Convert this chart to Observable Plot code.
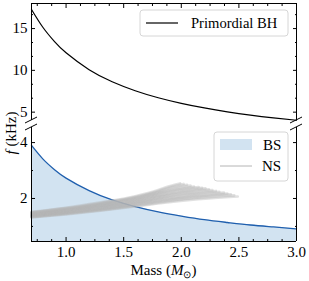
<!DOCTYPE html>
<html><head><meta charset="utf-8">
<script src="https://cdn.jsdelivr.net/npm/d3@7"></script>
<script src="https://cdn.jsdelivr.net/npm/@observablehq/plot@0.6"></script>
<style>
body{margin:0;background:white}
#chart{position:relative;width:309px;height:281px;font-family:"Liberation Serif",serif}
#chart svg{position:absolute;left:0;overflow:visible}
</style></head><body><div id="chart"></div>
<script>
// ---- data ----
const bhMass = [0.7,0.8,0.9,1.0,1.2,1.4,1.6,1.8,2.0,2.2,2.4,2.6,2.8,3.0];
const bhFreq = [17.29,15.13,13.44,12.10,10.08,8.64,7.56,6.72,6.05,5.50,5.04,4.65,4.32,4.03];
const bsMass = [0.7,0.8,0.9,1.0,1.2,1.4,1.6,1.8,2.0,2.2,2.4,2.6,2.8,3.0];
const bsFreq = [3.90,3.41,3.03,2.73,2.28,1.95,1.71,1.52,1.37,1.24,1.14,1.05,0.98,0.91];
// NS equation-of-state curves (mass, frequency), lowest to highest
const nsMass = [
  [0.7,1.0,1.3,1.6,1.8,2.145,2.49],
  [0.7,1.0,1.3,1.6,1.8,2.13,2.46],
  [0.7,1.0,1.3,1.6,1.8,2.115,2.43],
  [0.7,1.0,1.3,1.6,1.8,2.10,2.40],
  [0.7,1.0,1.3,1.6,1.8,2.085,2.37],
  [0.7,1.0,1.3,1.6,1.8,2.065,2.33],
  [0.7,1.0,1.3,1.6,1.8,2.05,2.30],
  [0.7,1.0,1.3,1.6,1.8,2.035,2.27],
  [0.7,1.0,1.3,1.6,1.8,2.02,2.24],
  [0.7,1.0,1.3,1.6,1.8,2.005,2.21],
  [0.7,1.0,1.3,1.6,1.8,1.99,2.18],
  [0.7,1.0,1.3,1.6,1.8,1.975,2.15],
  [0.7,1.0,1.3,1.6,1.8,1.955,2.11],
  [0.7,1.0,1.3,1.6,1.8,1.94,2.08],
  [0.7,1.0,1.3,1.6,1.8,1.925,2.05],
  [0.7,1.0,1.3,1.6,1.8,1.91,2.02],
  [0.7,1.0,1.3,1.6,1.8,1.895,1.99]
];
const nsFreq = [
  [1.320,1.43,1.560,1.710,1.82,1.97,2.07],
  [1.333,1.445,1.579,1.733,1.85,2.01,2.11],
  [1.345,1.46,1.598,1.756,1.88,2.04,2.15],
  [1.358,1.475,1.616,1.779,1.91,2.07,2.18],
  [1.370,1.49,1.635,1.802,1.94,2.10,2.21],
  [1.383,1.505,1.654,1.825,1.97,2.13,2.24],
  [1.395,1.52,1.672,1.848,2.00,2.16,2.27],
  [1.408,1.535,1.691,1.871,2.03,2.19,2.30],
  [1.420,1.55,1.710,1.894,2.06,2.22,2.33],
  [1.433,1.565,1.729,1.917,2.09,2.25,2.36],
  [1.445,1.58,1.748,1.940,2.12,2.28,2.38],
  [1.458,1.595,1.766,1.963,2.15,2.31,2.41],
  [1.470,1.61,1.785,1.986,2.18,2.33,2.43],
  [1.483,1.625,1.804,2.009,2.21,2.36,2.46],
  [1.495,1.64,1.823,2.032,2.24,2.39,2.49],
  [1.508,1.655,1.841,2.055,2.27,2.42,2.52],
  [1.520,1.67,1.860,2.078,2.30,2.44,2.54]
];
const massTicks = [1.0,1.5,2.0,2.5,3.0];
const massMinorTicks = [0.75,0.875,1.125,1.25,1.375,1.625,1.75,1.875,2.125,2.25,2.375,2.625,2.75,2.875];
const topFreqTicks = [5,10,15];
const topFreqMinor = [6.667,8.333,11.667,13.333,16.667];
const lowFreqTicks = [2,4];
const lowFreqMinor = [1,3];
const legendTop = ["Primordial BH"];
const legendLow = ["BS","NS"];

// ---- tables ----
const bh = bhMass.map((m,i)=>({m, f:bhFreq[i]}));
const bs = bsMass.map((m,i)=>({m, f:bsFreq[i]}));
const ns = nsMass.flatMap((ms,k)=>ms.map((m,i)=>({k, m, f:nsFreq[k][i]})));

const style = {background:"transparent", overflow:"visible", fontFamily:"'Liberation Serif', serif", fontSize:"15px", color:"black"};
const W = 309, ML = 31, MR = 13;
const bsLine = "#1f5fae", bsFill = "#d2e3f1", nsColor = "#b4b4b4";

function frameTicks(xAnchor, yTicks, yMinor, withXLabels) {
  return [
    Plot.axisX({anchor:xAnchor, ticks:massTicks, tickSize:-4, fill:"none"}),
    Plot.axisX({anchor:xAnchor, ticks:massMinorTicks, tickSize:-2, fill:"none"}),
    withXLabels ? Plot.axisX({anchor:"bottom", ticks:massTicks, tickSize:0, tickPadding:5, tickFormat:d3.format(".1f"), label:null}) : null,
    Plot.axisY({anchor:"left", ticks:yTicks, tickSize:-4, fill:"none"}),
    Plot.axisY({anchor:"left", ticks:yMinor, tickSize:-2, fill:"none"}),
    Plot.axisY({anchor:"right", ticks:yTicks, tickSize:-4, fill:"none"}),
    Plot.axisY({anchor:"right", ticks:yMinor, tickSize:-2, fill:"none"}),
    Plot.axisY({anchor:"left", ticks:yTicks, tickSize:0, tickPadding:4, tickFormat:d3.format("d"), label:null})
  ];
}

const topPlot = Plot.plot({
  width:W, height:127, marginLeft:ML, marginRight:MR, marginTop:3, marginBottom:7,
  style,
  x:{domain:[0.7,3.0], axis:null},
  y:{domain:[4,18], axis:null},
  marks:[
    Plot.line(bh,{x:"m", y:"f", stroke:"black", strokeWidth:1.2, curve:"natural"}),
    Plot.ruleX([0.7,3.0],{stroke:"black", strokeWidth:1}),
    Plot.ruleY([18],{stroke:"black", strokeWidth:1}),
    ...frameTicks("top", topFreqTicks, topFreqMinor, false)
  ]
});
topPlot.style.top = "0px";

const lowPlot = Plot.plot({
  width:W, height:161, marginLeft:ML, marginRight:MR, marginTop:7, marginBottom:40,
  style,
  x:{domain:[0.7,3.0], axis:null},
  y:{domain:[0.46,4.54], axis:null},
  marks:[
    Plot.areaY(bs,{x:"m", y:"f", fill:bsFill, curve:"natural", clip:true}),
    Plot.line(bs,{x:"m", y:"f", stroke:bsLine, strokeWidth:1.3, curve:"natural"}),
    Plot.line(ns,{x:"m", y:"f", z:"k", stroke:nsColor, strokeOpacity:0.4, strokeWidth:2.6, curve:"monotone-x"}),
    Plot.ruleX([0.7,3.0],{stroke:"black", strokeWidth:1}),
    Plot.ruleY([0.46],{stroke:"black", strokeWidth:1}),
    ...frameTicks("bottom", lowFreqTicks, lowFreqMinor, true)
  ]
});
lowPlot.style.top = "120px";

const chart = document.getElementById("chart");
chart.append(topPlot, lowPlot);

// ---- overlay: axis titles, broken-axis marks, legends ----
const xs = topPlot.scale("x"), yt = topPlot.scale("y"), yl = lowPlot.scale("y");
const xL = xs.apply(0.7), xR = xs.apply(3.0);
const yBreakTop = yt.apply(4), yBreakLow = 120 + yl.apply(4.54);
const ov = d3.select(chart).append("svg").attr("width",W).attr("height",281)
  .style("top","0px").attr("font-family","'Liberation Serif', serif").attr("font-size",15);

for (const x of [xL, xR]) for (const y of [yBreakTop, yBreakLow])
  ov.append("line").attr("x1",x-6).attr("y1",y+3).attr("x2",x+6).attr("y2",y-3)
    .attr("stroke","black").attr("stroke-width",1);

const xt = ov.append("text").attr("x",(xL+xR)/2).attr("y",275).attr("text-anchor","middle");
xt.append("tspan").text("Mass (");
xt.append("tspan").attr("font-style","italic").text("M");
xt.append("tspan").attr("font-size",10).attr("dy",3).text("⊙");
xt.append("tspan").attr("dy",-3).text(")");

const yt2 = ov.append("text").attr("transform","translate(16,133) rotate(-90)").attr("text-anchor","middle");
yt2.append("tspan").attr("font-style","italic").text("f");
yt2.append("tspan").text(" (kHz)");

// top legend
const lg1 = ov.append("g");
lg1.append("rect").attr("x",140).attr("y",10).attr("width",148).attr("height",26).attr("rx",3)
  .attr("fill","white").attr("fill-opacity",0.85).attr("stroke","#d6d6d6");
lg1.append("line").attr("x1",146).attr("x2",178).attr("y1",23).attr("y2",23).attr("stroke","black").attr("stroke-width",1.2);
lg1.append("text").attr("x",191).attr("y",28).attr("font-size",14.6).text(legendTop[0]);

// bottom legend
const lg2 = ov.append("g");
lg2.append("rect").attr("x",214).attr("y",132).attr("width",74).attr("height",49).attr("rx",3)
  .attr("fill","white").attr("fill-opacity",0.85).attr("stroke","#d6d6d6");
lg2.append("rect").attr("x",220).attr("y",139).attr("width",32).attr("height",11).attr("fill",bsFill);
lg2.append("text").attr("x",263).attr("y",150).text(legendLow[0]);
lg2.append("line").attr("x1",220).attr("x2",252).attr("y1",166).attr("y2",166).attr("stroke",nsColor).attr("stroke-width",1);
lg2.append("text").attr("x",262).attr("y",171).text(legendLow[1]);
</script></body></html>
